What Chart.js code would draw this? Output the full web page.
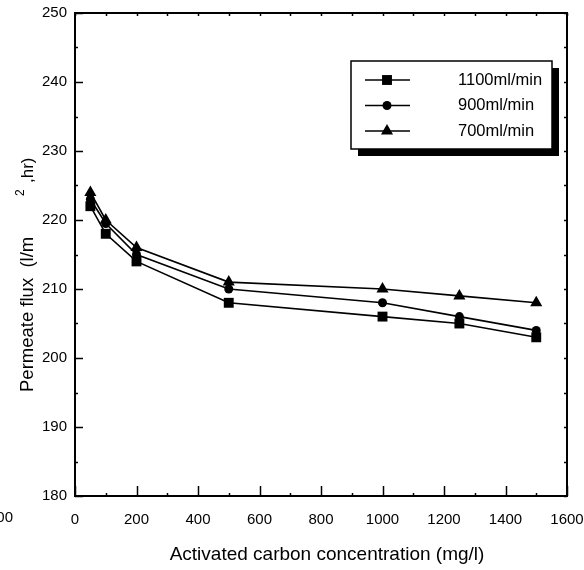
<!DOCTYPE html>
<html><head><meta charset="utf-8">
<script src="https://cdn.jsdelivr.net/npm/chart.js@4/dist/chart.umd.min.js"></script>
<style>html,body{margin:0;padding:0;background:#fff}#wrap{width:584px;height:570px}</style>
</head><body><div id="wrap"><canvas id="c" width="584" height="570"></canvas></div>
<script>
const concentrations = [50, 100, 200, 500, 1000, 1250, 1500];
const flux1100 = [222, 218, 214, 208, 206, 205, 203];
const flux900 = [223, 219.5, 215, 210, 208, 206, 204];
const flux700 = [224, 220, 216, 211, 210, 209, 208];
const seriesLabels = ['1100ml/min', '900ml/min', '700ml/min'];
const xTitle = 'Activated carbon concentration (mg/l)';
const yTitleMain = 'Permeate flux  (l/m';
const yTitleSup = '2';
const yTitleEnd = ',hr)';
const FONT = '"Liberation Sans", Arial, sans-serif';

function pts(vals){ return concentrations.map((x,i)=>({x:x,y:vals[i]})); }
const styles = [
  {pointStyle:'rect', pointRadius:7},
  {pointStyle:'circle', pointRadius:4.5},
  {pointStyle:'triangle', pointRadius:7}
];
const datasets = [flux1100, flux900, flux700].map((v,i)=>({
  label: seriesLabels[i], data: pts(v), showLine:true,
  borderColor:'#000', backgroundColor:'#000', borderWidth:1.6,
  pointStyle: styles[i].pointStyle, pointRadius: styles[i].pointRadius,
  pointBorderWidth:0, pointBackgroundColor:'#000', tension:0
}));

const decor = {
  id:'decor',
  afterDraw(chart){
    const ctx = chart.ctx, a = chart.chartArea;
    const xs = chart.scales.x, ys = chart.scales.y;
    ctx.save();
    ctx.strokeStyle='#000'; ctx.lineWidth=2;
    ctx.strokeRect(a.left, a.top, a.right-a.left, a.bottom-a.top);
    ctx.lineWidth=1.5;
    for(let v=0; v<=1600; v+=100){
      const px = Math.round(xs.getPixelForValue(v))+0.5;
      const major = v%200===0;
      ctx.beginPath(); ctx.moveTo(px, a.bottom); ctx.lineTo(px, a.bottom-(major?10:3)); ctx.stroke();
      ctx.beginPath(); ctx.moveTo(px, a.top); ctx.lineTo(px, a.top+3); ctx.stroke();
    }
    for(let v=180; v<=250; v+=5){
      const py = Math.round(ys.getPixelForValue(v))+0.5;
      const major = v%10===0;
      ctx.beginPath(); ctx.moveTo(a.left, py); ctx.lineTo(a.left+(major?8:3), py); ctx.stroke();
      ctx.beginPath(); ctx.moveTo(a.right, py); ctx.lineTo(a.right-3, py); ctx.stroke();
    }
    ctx.fillStyle='#000';
    ctx.font='19px '+FONT;
    ctx.textAlign='center'; ctx.textBaseline='alphabetic';
    ctx.fillText(xTitle, 327, 560);
    ctx.save();
    ctx.translate(33, 0); ctx.rotate(-Math.PI/2);
    ctx.textAlign='left';
    ctx.font='18.5px '+FONT;
    ctx.fillText(yTitleMain, -392, 0);
    ctx.font='12px '+FONT;
    ctx.fillText(yTitleSup, -196, -9);
    ctx.font='17px '+FONT;
    ctx.fillText(yTitleEnd, -183, 0);
    ctx.restore();
    ctx.font='15px '+FONT; ctx.textAlign='right'; ctx.textBaseline='middle';
    ctx.fillText('1600', 13, 518);
    // legend
    const lx=351, ly=61, lw=201, lh=88;
    ctx.fillStyle='#000';
    ctx.fillRect(lx+7, ly+7, lw, lh);
    ctx.fillStyle='#fff';
    ctx.fillRect(lx, ly, lw, lh);
    ctx.strokeStyle='#000'; ctx.lineWidth=1.5;
    ctx.strokeRect(lx, ly, lw, lh);
    chart.data.datasets.forEach((ds,i)=>{
      const y = 80 + i*25.5;
      ctx.lineWidth=1.6;
      ctx.beginPath(); ctx.moveTo(365, y); ctx.lineTo(410, y); ctx.stroke();
      ctx.fillStyle='#000';
      Chart.helpers.drawPoint(ctx, {pointStyle: ds.pointStyle, radius: ds.pointRadius, borderWidth:0}, 387, y);
      ctx.font='16.5px '+FONT; ctx.textAlign='left'; ctx.textBaseline='middle';
      ctx.fillText(ds.label, 458, y);
    });
    ctx.restore();
  }
};

new Chart(document.getElementById('c'), {
  type:'scatter',
  data:{datasets},
  options:{
    responsive:false, animation:false, devicePixelRatio:1,
    layout:{padding:{top:13, right:17, left:0, bottom:0}},
    plugins:{legend:{display:false}, tooltip:{enabled:false}},
    elements:{point:{borderWidth:0}},
    scales:{
      x:{type:'linear', min:0, max:1600,
        ticks:{stepSize:200, color:'#000', font:{family:FONT, size:15}, padding:15, maxRotation:0, autoSkip:false,
          callback:(v)=>String(v)},
        grid:{display:false, drawTicks:false}, border:{display:false},
        afterFit(s){ s.height = 74; s.paddingLeft = 0; s.paddingRight = 0; }},
      y:{type:'linear', min:180, max:250,
        ticks:{stepSize:10, color:'#000', font:{family:FONT, size:15}, padding:8, callback:(v)=>String(v)},
        grid:{display:false, drawTicks:false}, border:{display:false},
        afterFit(s){ s.width = 75; s.paddingTop = 0; s.paddingBottom = 0; }}
    }
  },
  plugins:[decor]
});
</script></body></html>
